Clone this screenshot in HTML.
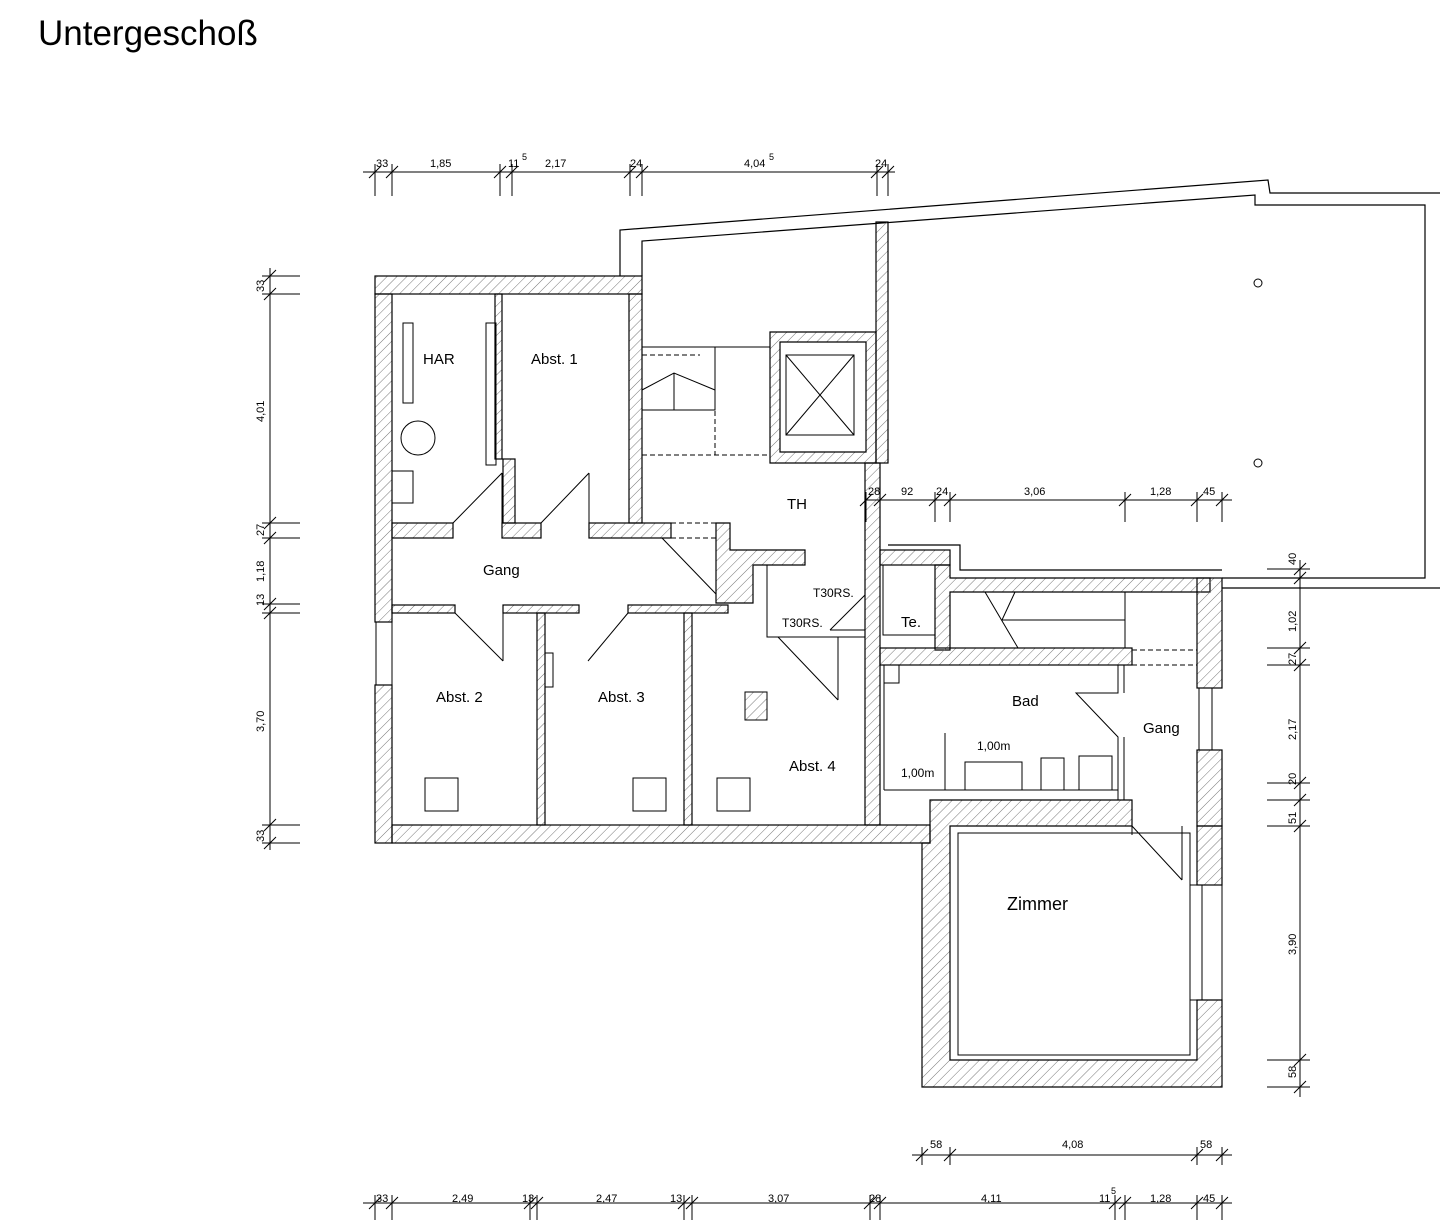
<!DOCTYPE html>
<html><head><meta charset="utf-8"><style>
html,body{margin:0;padding:0;background:#fff;width:1440px;height:1220px;overflow:hidden}
svg{display:block}
text{font-family:"Liberation Sans",sans-serif;fill:#000}
</style></head><body>
<svg width="1440" height="1220" viewBox="0 0 1440 1220" xmlns="http://www.w3.org/2000/svg">
<defs>
<pattern id="h" width="7" height="7" patternUnits="userSpaceOnUse" patternTransform="rotate(45)">
<line x1="0" y1="0" x2="0" y2="7" stroke="#777" stroke-width="1"/>
</pattern>
</defs>
<text x="38" y="45" font-size="35">Untergeschoß</text>

<g fill="none" stroke="#000" stroke-width="1.2">
<path d="M620,276 L620,230 L1268,180 L1270,193 L1440,193"/>
<path d="M642,276 L642,241 L1255,195 L1255,205 L1425,205 L1425,578 L1222,578"/>
<path d="M1222,588 L1440,588"/>
<path d="M888,545 L960,545 L960,570 L1222,570"/>
</g>

<g fill="url(#h)" stroke="#000" stroke-width="1.2">
<rect x="375" y="276" width="267" height="18"/>
<rect x="375" y="294" width="17" height="328"/>
<rect x="375" y="685" width="17" height="158"/>
<rect x="392" y="825" width="538" height="18"/>
<rect x="629" y="294" width="13" height="229"/>
<rect x="495" y="294" width="7" height="165"/>
<rect x="503" y="459" width="12" height="64"/>
<rect x="392" y="523" width="61" height="15"/>
<rect x="502" y="523" width="39" height="15"/>
<rect x="589" y="523" width="82" height="15"/>
<rect x="392" y="605" width="63" height="8"/>
<rect x="503" y="605" width="76" height="8"/>
<rect x="628" y="605" width="100" height="8"/>
<path d="M716,523 L730,523 L730,550 L805,550 L805,565 L753,565 L753,603 L716,603 Z"/>
<rect x="537" y="613" width="8" height="212"/>
<rect x="684" y="613" width="8" height="212"/>
<rect x="865" y="463" width="15" height="362"/>
<rect x="876" y="222" width="12" height="241"/>
<path d="M770,332 L876,332 L876,463 L770,463 Z M780,342 L866,342 L866,452 L780,452 Z" fill-rule="evenodd"/>
<rect x="880" y="550" width="70" height="15"/>
<path d="M935,565 L950,565 L950,578 L1210,578 L1210,592 L950,592 L950,650 L935,650 Z"/>
<rect x="880" y="648" width="252" height="17"/>
<rect x="1197" y="578" width="25" height="110"/>
<rect x="1197" y="750" width="25" height="76"/>
<path d="M930,800 L1132,800 L1132,826 L950,826 L950,1060 L1197,1060 L1197,1000 L1222,1000 L1222,1087 L922,1087 L922,843 L930,843 Z"/>
<rect x="1197" y="826" width="25" height="59"/>
</g>

<g fill="none" stroke="#000" stroke-width="1">
<rect x="958" y="833" width="232" height="222"/>
<rect x="403" y="323" width="10" height="80"/>
<rect x="486" y="323" width="10" height="142"/>
<circle cx="418" cy="438" r="17"/>
<rect x="392" y="471" width="21" height="32"/>
<rect x="376" y="622" width="16" height="63"/>
<rect x="1199" y="688" width="13" height="62"/>
<rect x="1190" y="885" width="12" height="115"/>
<line x1="1222" y1="885" x2="1222" y2="1000"/>
<rect x="545" y="653" width="8" height="34"/>
<rect x="745" y="692" width="22" height="28" fill="url(#h)"/>
<rect x="425" y="778" width="33" height="33"/>
<rect x="633" y="778" width="33" height="33"/>
<rect x="717" y="778" width="33" height="33"/>
<rect x="786" y="355" width="68" height="80"/>
<line x1="786" y1="355" x2="854" y2="435"/><line x1="854" y1="355" x2="786" y2="435"/>
<line x1="642" y1="347" x2="770" y2="347"/>
<path d="M642,347 L715,347 L715,410 L642,410"/>
<polyline points="642,390 674,373 715,390"/>
<line x1="674" y1="373" x2="674" y2="410"/>
<line x1="453" y1="523" x2="502" y2="473"/><line x1="502" y1="473" x2="502" y2="523"/>
<line x1="541" y1="523" x2="589" y2="473"/><line x1="589" y1="473" x2="589" y2="523"/>
<line x1="455" y1="613" x2="503" y2="661"/><line x1="503" y1="613" x2="503" y2="661"/>
<line x1="628" y1="613" x2="588" y2="661"/>
<line x1="662" y1="538" x2="716" y2="594"/>
<path d="M753,565 L767,565 L767,637 L865,637"/>
<line x1="778" y1="637" x2="838" y2="700"/><line x1="838" y1="637" x2="838" y2="700"/>
<line x1="865" y1="595" x2="830" y2="630"/><line x1="830" y1="630" x2="865" y2="630"/>
<rect x="883" y="565" width="52" height="70"/>
<line x1="950" y1="592" x2="1015" y2="592"/>
<line x1="985" y1="592" x2="1018" y2="648"/>
<line x1="1002" y1="620" x2="1125" y2="620"/>
<line x1="1015" y1="592" x2="1002" y2="620"/>
<line x1="1125" y1="592" x2="1125" y2="648"/>
<line x1="884" y1="665" x2="884" y2="790"/>
<line x1="884" y1="790" x2="1118" y2="790"/>
<rect x="884" y="665" width="15" height="18"/>
<line x1="945" y1="733" x2="945" y2="790"/>
<rect x="965" y="762" width="57" height="28"/>
<rect x="1041" y="758" width="23" height="32"/>
<rect x="1079" y="756" width="33" height="34"/>
<path d="M1118,665 L1118,693 L1076,693 L1118,737 L1118,800"/>
<path d="M1124,665 L1124,693 M1124,737 L1124,800"/>
<line x1="1132" y1="800" x2="1132" y2="835"/>
<line x1="1132" y1="826" x2="1182" y2="880"/>
<line x1="1182" y1="826" x2="1182" y2="880"/>
</g>
<g fill="none" stroke="#000" stroke-width="1" stroke-dasharray="5,3">
<line x1="642" y1="455" x2="770" y2="455"/>
<line x1="715" y1="347" x2="715" y2="455"/>
<line x1="671" y1="523" x2="716" y2="523"/>
<line x1="671" y1="538" x2="716" y2="538"/>
<line x1="1132" y1="650" x2="1197" y2="650"/>
<line x1="1132" y1="665" x2="1197" y2="665"/>
<line x1="642" y1="355" x2="700" y2="355"/>
</g>

<g font-size="15">
<text x="423" y="364">HAR</text>
<text x="531" y="364">Abst. 1</text>
<text x="483" y="575">Gang</text>
<text x="787" y="509">TH</text>
<text x="436" y="702">Abst. 2</text>
<text x="598" y="702">Abst. 3</text>
<text x="789" y="771">Abst. 4</text>
<text x="1012" y="706">Bad</text>
<text x="1143" y="733">Gang</text>
<text x="901" y="627">Te.</text>
<text x="1007" y="910" font-size="18">Zimmer</text>
</g>
<g font-size="12">
<text x="813" y="597">T30RS.</text>
<text x="782" y="627">T30RS.</text>
<text x="977" y="750">1,00m</text>
<text x="901" y="777">1,00m</text>
</g>

<g stroke="#000" stroke-width="1" fill="none">
<line x1="363" y1="172" x2="895" y2="172"/>
<line x1="866" y1="500" x2="1232" y2="500"/>
<line x1="912" y1="1155" x2="1232" y2="1155"/>
<line x1="363" y1="1203" x2="1232" y2="1203"/>
<line x1="270" y1="268" x2="270" y2="850"/>
<line x1="1300" y1="560" x2="1300" y2="1097"/>
</g>
<g stroke="#000" stroke-width="1">
<path d="M375,164V196M392,164V196M500,164V196M512,164V196M630,164V196M642,164V196M877,164V196M888,164V196"/>
<path d="M369,178L381,166M386,178L398,166M494,178L506,166M506,178L518,166M624,178L636,166M636,178L648,166M871,178L883,166M882,178L894,166"/>
<path d="M866,492V522M880,492V522M935,492V522M950,492V522M1125,492V522M1197,492V522M1222,492V522"/>
<path d="M860,506L872,494M874,506L886,494M929,506L941,494M944,506L956,494M1119,506L1131,494M1191,506L1203,494M1216,506L1228,494"/>
<path d="M922,1147V1165M950,1147V1165M1197,1147V1165M1222,1147V1165"/>
<path d="M916,1161L928,1149M944,1161L956,1149M1191,1161L1203,1149M1216,1161L1228,1149"/>
<path d="M375,1195V1220M392,1195V1220M530,1195V1220M537,1195V1220M684,1195V1220M692,1195V1220M870,1195V1220M880,1195V1220M1115,1195V1220M1125,1195V1220M1197,1195V1220M1222,1195V1220"/>
<path d="M369,1209L381,1197M386,1209L398,1197M524,1209L536,1197M531,1209L543,1197M678,1209L690,1197M686,1209L698,1197M864,1209L876,1197M874,1209L886,1197M1109,1209L1121,1197M1119,1209L1131,1197M1191,1209L1203,1197M1216,1209L1228,1197"/>
<path d="M262,276H300M262,294H300M262,523H300M262,538H300M262,604H300M262,613H300M262,825H300M262,843H300"/>
<path d="M264,282L276,270M264,300L276,288M264,529L276,517M264,544L276,532M264,610L276,598M264,619L276,607M264,831L276,819M264,849L276,837"/>
<path d="M1267,569H1310M1267,578H1310M1267,648H1310M1267,665H1310M1267,783H1310M1267,800H1310M1267,826H1310M1267,1060H1310M1267,1087H1310"/>
<path d="M1294,575L1306,563M1294,584L1306,572M1294,654L1306,642M1294,671L1306,659M1294,789L1306,777M1294,806L1306,794M1294,832L1306,820M1294,1066L1306,1054M1294,1093L1306,1081"/>
</g>
<g font-size="11">
<text x="376" y="167">33</text><text x="430" y="167">1,85</text><text x="508" y="167">11</text><text x="522" y="160" font-size="9">5</text><text x="545" y="167">2,17</text>
<text x="630" y="167">24</text><text x="744" y="167">4,04</text><text x="769" y="160" font-size="9">5</text><text x="875" y="167">24</text>
<text x="868" y="495">28</text><text x="901" y="495">92</text><text x="936" y="495">24</text><text x="1024" y="495">3,06</text><text x="1150" y="495">1,28</text><text x="1203" y="495">45</text>
<text x="930" y="1148">58</text><text x="1062" y="1148">4,08</text><text x="1200" y="1148">58</text>
<text x="376" y="1202">33</text><text x="452" y="1202">2,49</text><text x="522" y="1202">13</text><text x="596" y="1202">2,47</text><text x="670" y="1202">13</text><text x="768" y="1202">3,07</text><text x="869" y="1202">28</text><text x="981" y="1202">4,11</text><text x="1099" y="1202">11</text><text x="1111" y="1194" font-size="9">5</text><text x="1150" y="1202">1,28</text><text x="1203" y="1202">45</text>
</g>
<g font-size="11">
<text transform="translate(264,292) rotate(-90)">33</text>
<text transform="translate(264,422) rotate(-90)">4,01</text>
<text transform="translate(264,536) rotate(-90)">27</text>
<text transform="translate(264,582) rotate(-90)">1,18</text>
<text transform="translate(264,606) rotate(-90)">13</text>
<text transform="translate(264,732) rotate(-90)">3,70</text>
<text transform="translate(264,842) rotate(-90)">33</text>
<text transform="translate(1296,565) rotate(-90)">40</text>
<text transform="translate(1296,632) rotate(-90)">1,02</text>
<text transform="translate(1296,665) rotate(-90)">27</text>
<text transform="translate(1296,740) rotate(-90)">2,17</text>
<text transform="translate(1296,785) rotate(-90)">20</text>
<text transform="translate(1296,824) rotate(-90)">51</text>
<text transform="translate(1296,955) rotate(-90)">3,90</text>
<text transform="translate(1296,1078) rotate(-90)">58</text>
</g>
<circle cx="1258" cy="283" r="4" fill="none" stroke="#000"/>
<circle cx="1258" cy="463" r="4" fill="none" stroke="#000"/>
</svg>
</body></html>
